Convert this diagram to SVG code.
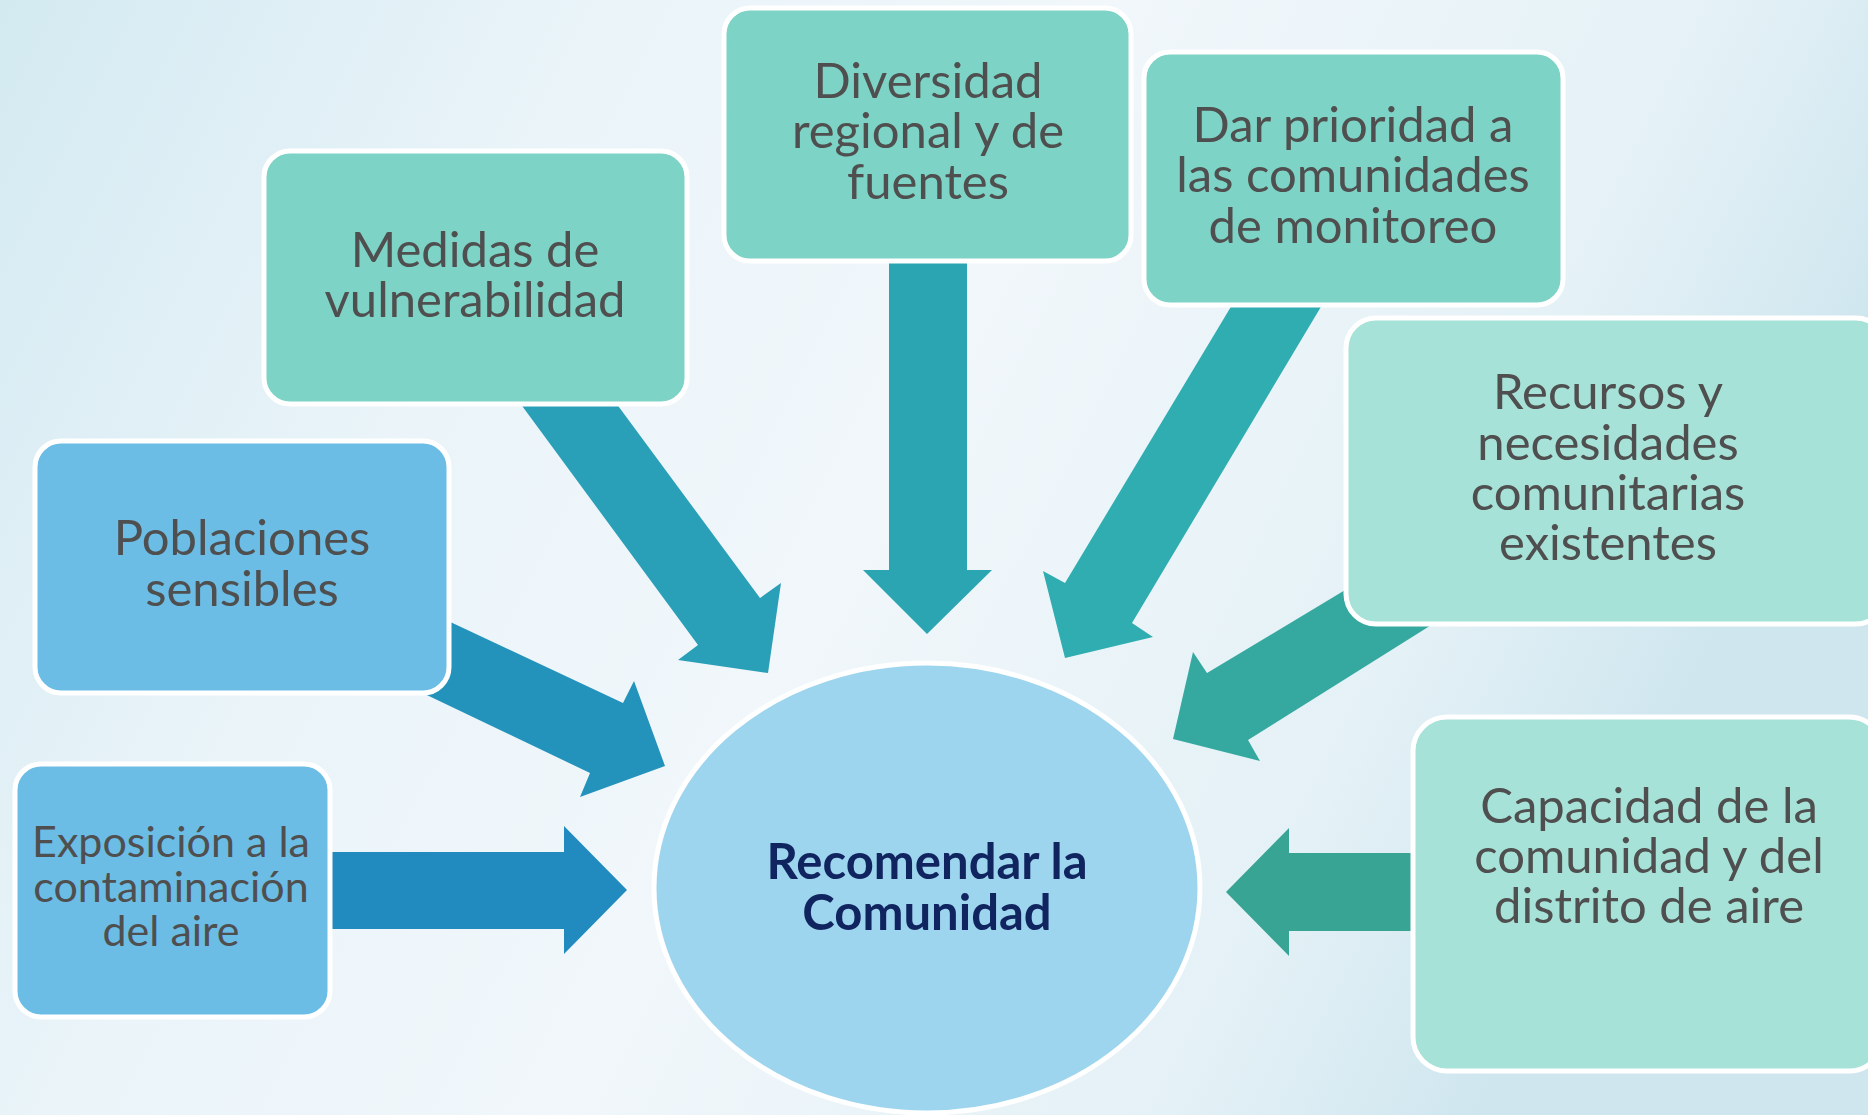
<svg xmlns="http://www.w3.org/2000/svg" width="1868" height="1115" viewBox="0 0 1868 1115">
  <defs>
    <linearGradient id="bg" x1="0" y1="0" x2="1" y2="0.3">
      <stop offset="0" stop-color="#d3eaf1"/>
      <stop offset="0.3" stop-color="#eaf4f9"/>
      <stop offset="0.55" stop-color="#f1f7fb"/>
      <stop offset="0.85" stop-color="#e4f1f6"/>
      <stop offset="1" stop-color="#cfe6ef"/>
    </linearGradient>
  </defs>
  <style>
    .box { stroke: #ffffff; stroke-width: 5; }
    .dark { fill: #7dd3c5; }
    .light { fill: #a7e2d8; }
    .blue { fill: #6bbde6; }
    .lbl { font-family: Lato, "Liberation Sans", sans-serif; fill: #4f4f4f; text-anchor: middle; font-size: 49px; }
    .small { font-size: 43px; }
    .center { font-family: Lato, "Liberation Sans", sans-serif; fill: #10255f; text-anchor: middle; font-size: 49px; font-weight: bold; }
  </style>
  <rect x="0" y="0" width="1868" height="1115" fill="url(#bg)"/>

  <g id="connectors">
    <polygon points="300,852 564,852 564,826 627,890 564,954 564,929 300,929" fill="#218bbf"/>
    <polygon points="412,604 623,703 634,681 665,766 580,797 590,773 387,676" fill="#2393bb"/>
    <polygon points="503,380 599,380 760,598 781,583 768,673 678,660 698,645" fill="#2a9fb8"/>
    <polygon points="889,240 967,240 967,570 992,570 927,634 863,570 889,570" fill="#2ba5b2"/>
    <polygon points="1247,280 1337,280 1132,623 1153,637 1065,658 1043,571 1065,583" fill="#2fadb0"/>
    <polygon points="1380,569 1460,607 1248,740 1260,761 1173,739 1193,652 1207,673" fill="#35a9a0"/>
    <polygon points="1440,853 1289,853 1289,828 1226,892 1289,956 1289,931 1440,931" fill="#38a594"/>
  </g>

  <g id="node-medidas">
    <rect class="box dark" x="264" y="151" width="423" height="253" rx="26"/>
    <text class="lbl" x="475" y="267">Medidas de</text>
    <text class="lbl" x="475" y="317">vulnerabilidad</text>
  </g>
  <g id="node-diversidad">
    <rect class="box dark" x="724" y="8" width="407" height="253" rx="26"/>
    <text class="lbl" x="928" y="98">Diversidad</text>
    <text class="lbl" x="928" y="148">regional y de</text>
    <text class="lbl" x="928" y="199">fuentes</text>
  </g>
  <g id="node-dar">
    <rect class="box dark" x="1144" y="52" width="419" height="253" rx="26"/>
    <text class="lbl" x="1353" y="142">Dar prioridad a</text>
    <text class="lbl" x="1353" y="192">las comunidades</text>
    <text class="lbl" x="1353" y="243">de monitoreo</text>
  </g>
  <g id="node-recursos">
    <rect class="box light" x="1346" y="318" width="540" height="306" rx="30"/>
    <text class="lbl" x="1608" y="409">Recursos y</text>
    <text class="lbl" x="1608" y="460">necesidades</text>
    <text class="lbl" x="1608" y="510">comunitarias</text>
    <text class="lbl" x="1608" y="560">existentes</text>
  </g>
  <g id="node-capacidad">
    <rect class="box light" x="1413" y="717" width="470" height="354" rx="34"/>
    <text class="lbl" x="1649" y="823">Capacidad de la</text>
    <text class="lbl" x="1649" y="873">comunidad y del</text>
    <text class="lbl" x="1649" y="923">distrito de aire</text>
  </g>
  <g id="node-poblaciones">
    <rect class="box blue" x="35" y="441" width="414" height="252" rx="26"/>
    <text class="lbl" x="242" y="555">Poblaciones</text>
    <text class="lbl" x="242" y="606">sensibles</text>
  </g>
  <g id="node-exposicion">
    <rect class="box blue" x="15" y="764" width="315" height="253" rx="26"/>
    <text class="lbl small" x="171" y="857">Exposición a la</text>
    <text class="lbl small" x="171" y="902">contaminación</text>
    <text class="lbl small" x="171" y="946">del aire</text>
  </g>
  <g id="node-center">
    <ellipse cx="927" cy="888" rx="273" ry="225" fill="#9ed5ee" stroke="#ffffff" stroke-width="5"/>
    <text class="center" x="927" y="879">Recomendar la</text>
    <text class="center" x="927" y="930">Comunidad</text>
  </g>
</svg>
